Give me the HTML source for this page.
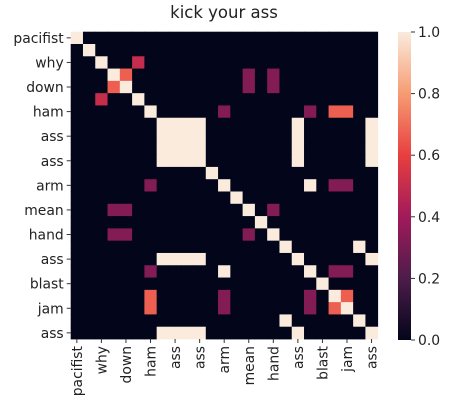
<!DOCTYPE html>
<html><head><meta charset="utf-8"><style>
html,body{margin:0;padding:0;background:#fff;}
svg{display:block;font-family:"DejaVu Sans","Liberation Sans",sans-serif;}
</style></head><body>
<svg id="chart" width="454" height="410" viewBox="0 0 454 410">
<text x="224" y="18" text-anchor="middle" font-size="16.5" fill="#222">kick your ass</text>
<g id="cells"></g>
<g id="yticks"></g>
<g id="xticks"></g>
<defs><linearGradient id="cg" x1="0" y1="1" x2="0" y2="0">
<stop offset="0" stop-color="#03051a"/><stop offset="0.2" stop-color="#4c1d4b"/><stop offset="0.4" stop-color="#a11a5b"/><stop offset="0.6" stop-color="#e83f3f"/><stop offset="0.8" stop-color="#f69c73"/><stop offset="1" stop-color="#faebdd"/></linearGradient></defs>
<rect x="398" y="32" width="13" height="308" fill="url(#cg)"/>
<g id="cbticks"></g>
</svg>
<script>
const labels = ["pacifist","","why","","down","","ham","","ass","","ass","","arm","","mean","","hand","","ass","","blast","","jam","","ass"];
const cbTicks = [0.0,0.2,0.4,0.6,0.8,1.0];
// nonzero off-diagonal entries: [row, col, value] (symmetric)
const links = [
 [2,5,0.5],[3,4,0.67],[3,14,0.33],[3,16,0.33],[4,14,0.33],[4,16,0.33],
 [6,12,0.33],[6,19,0.33],[6,21,0.67],[6,22,0.67],
 [7,8,1],[7,9,1],[7,10,1],[8,9,1],[8,10,1],[9,10,1],
 [7,18,1],[7,24,1],[8,18,1],[8,24,1],[9,18,1],[9,24,1],[10,18,1],[10,24,1],[18,24,1],
 [12,19,1],[12,21,0.33],[12,22,0.33],[19,21,0.33],[19,22,0.33],[21,22,0.67],
 [14,16,0.33],[17,23,1]
];
const N = labels.length;
const M = [];
for (let i=0;i<N;i++){ M.push(new Array(N).fill(0)); M[i][i]=1; }
links.forEach(([a,b,v])=>{ M[a][b]=v; M[b][a]=v; });

const X0=70.7, Y0=31.7, W=307, H=307.3;
const cw=W/N, ch=H/N;
const xs = j => X0 + j*cw;
const ys = i => Y0 + i*ch;
const stops=[[0,[3,5,26]],[0.2,[76,29,75]],[0.4,[161,26,91]],[0.6,[232,63,63]],[0.8,[246,156,115]],[1,[250,235,221]]];
function col(v){
  for(let k=1;k<stops.length;k++){ if(v<=stops[k][0]){ const [a,ca]=stops[k-1],[b,cb]=stops[k]; const t=(v-a)/(b-a);
    return 'rgb('+ca.map((c,i)=>Math.round(c+(cb[i]-c)*t)).join(',')+')'; } }
  return 'rgb(250,235,221)';
}
const NS="http://www.w3.org/2000/svg";
const cells=document.getElementById('cells');
for(let i=0;i<N;i++) for(let j=0;j<N;j++){
  const r=document.createElementNS(NS,'rect');
  r.setAttribute('x',xs(j)); r.setAttribute('y',ys(i));
  r.setAttribute('width',cw+0.4); r.setAttribute('height',ch+0.4);
  r.setAttribute('fill',col(M[i][j]));
  
  
  cells.appendChild(r);
}
const yg=document.getElementById('yticks'), xg=document.getElementById('xticks');
labels.forEach((l,i)=>{
  if(!l) return;
  const y=ys(i)+ch/2, x=xs(i)+cw/2;
  const t=document.createElementNS(NS,'line');
  t.setAttribute('x1',X0-4); t.setAttribute('x2',X0); t.setAttribute('y1',y); t.setAttribute('y2',y); t.setAttribute('stroke','#333');
  yg.appendChild(t);
  const tx=document.createElementNS(NS,'text');
  tx.setAttribute('x',X0-7); tx.setAttribute('y',y+5); tx.setAttribute('text-anchor','end'); tx.setAttribute('font-size','13.9'); tx.setAttribute('fill','#222');
  tx.textContent=l;
  
  
  yg.appendChild(tx);
  const t2=document.createElementNS(NS,'line');
  t2.setAttribute('x1',x); t2.setAttribute('x2',x); t2.setAttribute('y1',Y0+H); t2.setAttribute('y2',Y0+H+4); t2.setAttribute('stroke','#333');
  xg.appendChild(t2);
  const tx2=document.createElementNS(NS,'text');
  tx2.setAttribute('transform','translate('+(x+5)+','+(Y0+H+7)+') rotate(-90)');
  tx2.setAttribute('text-anchor','end'); tx2.setAttribute('font-size','13.9'); tx2.setAttribute('fill','#222');
  tx2.textContent=l;
  
  
  xg.appendChild(tx2);
});
const cb=document.getElementById('cbticks');
cbTicks.forEach(v=>{
  const y=340-v*308;
  const t=document.createElementNS(NS,'line');
  t.setAttribute('x1',411); t.setAttribute('x2',415); t.setAttribute('y1',y); t.setAttribute('y2',y); t.setAttribute('stroke','#333');
  cb.appendChild(t);
  const tx=document.createElementNS(NS,'text');
  tx.setAttribute('x',418); tx.setAttribute('y',y+5); tx.setAttribute('font-size','13.9'); tx.setAttribute('fill','#222');
  tx.textContent=v.toFixed(1);
  
  
  cb.appendChild(tx);
});
</script>
</body></html>
